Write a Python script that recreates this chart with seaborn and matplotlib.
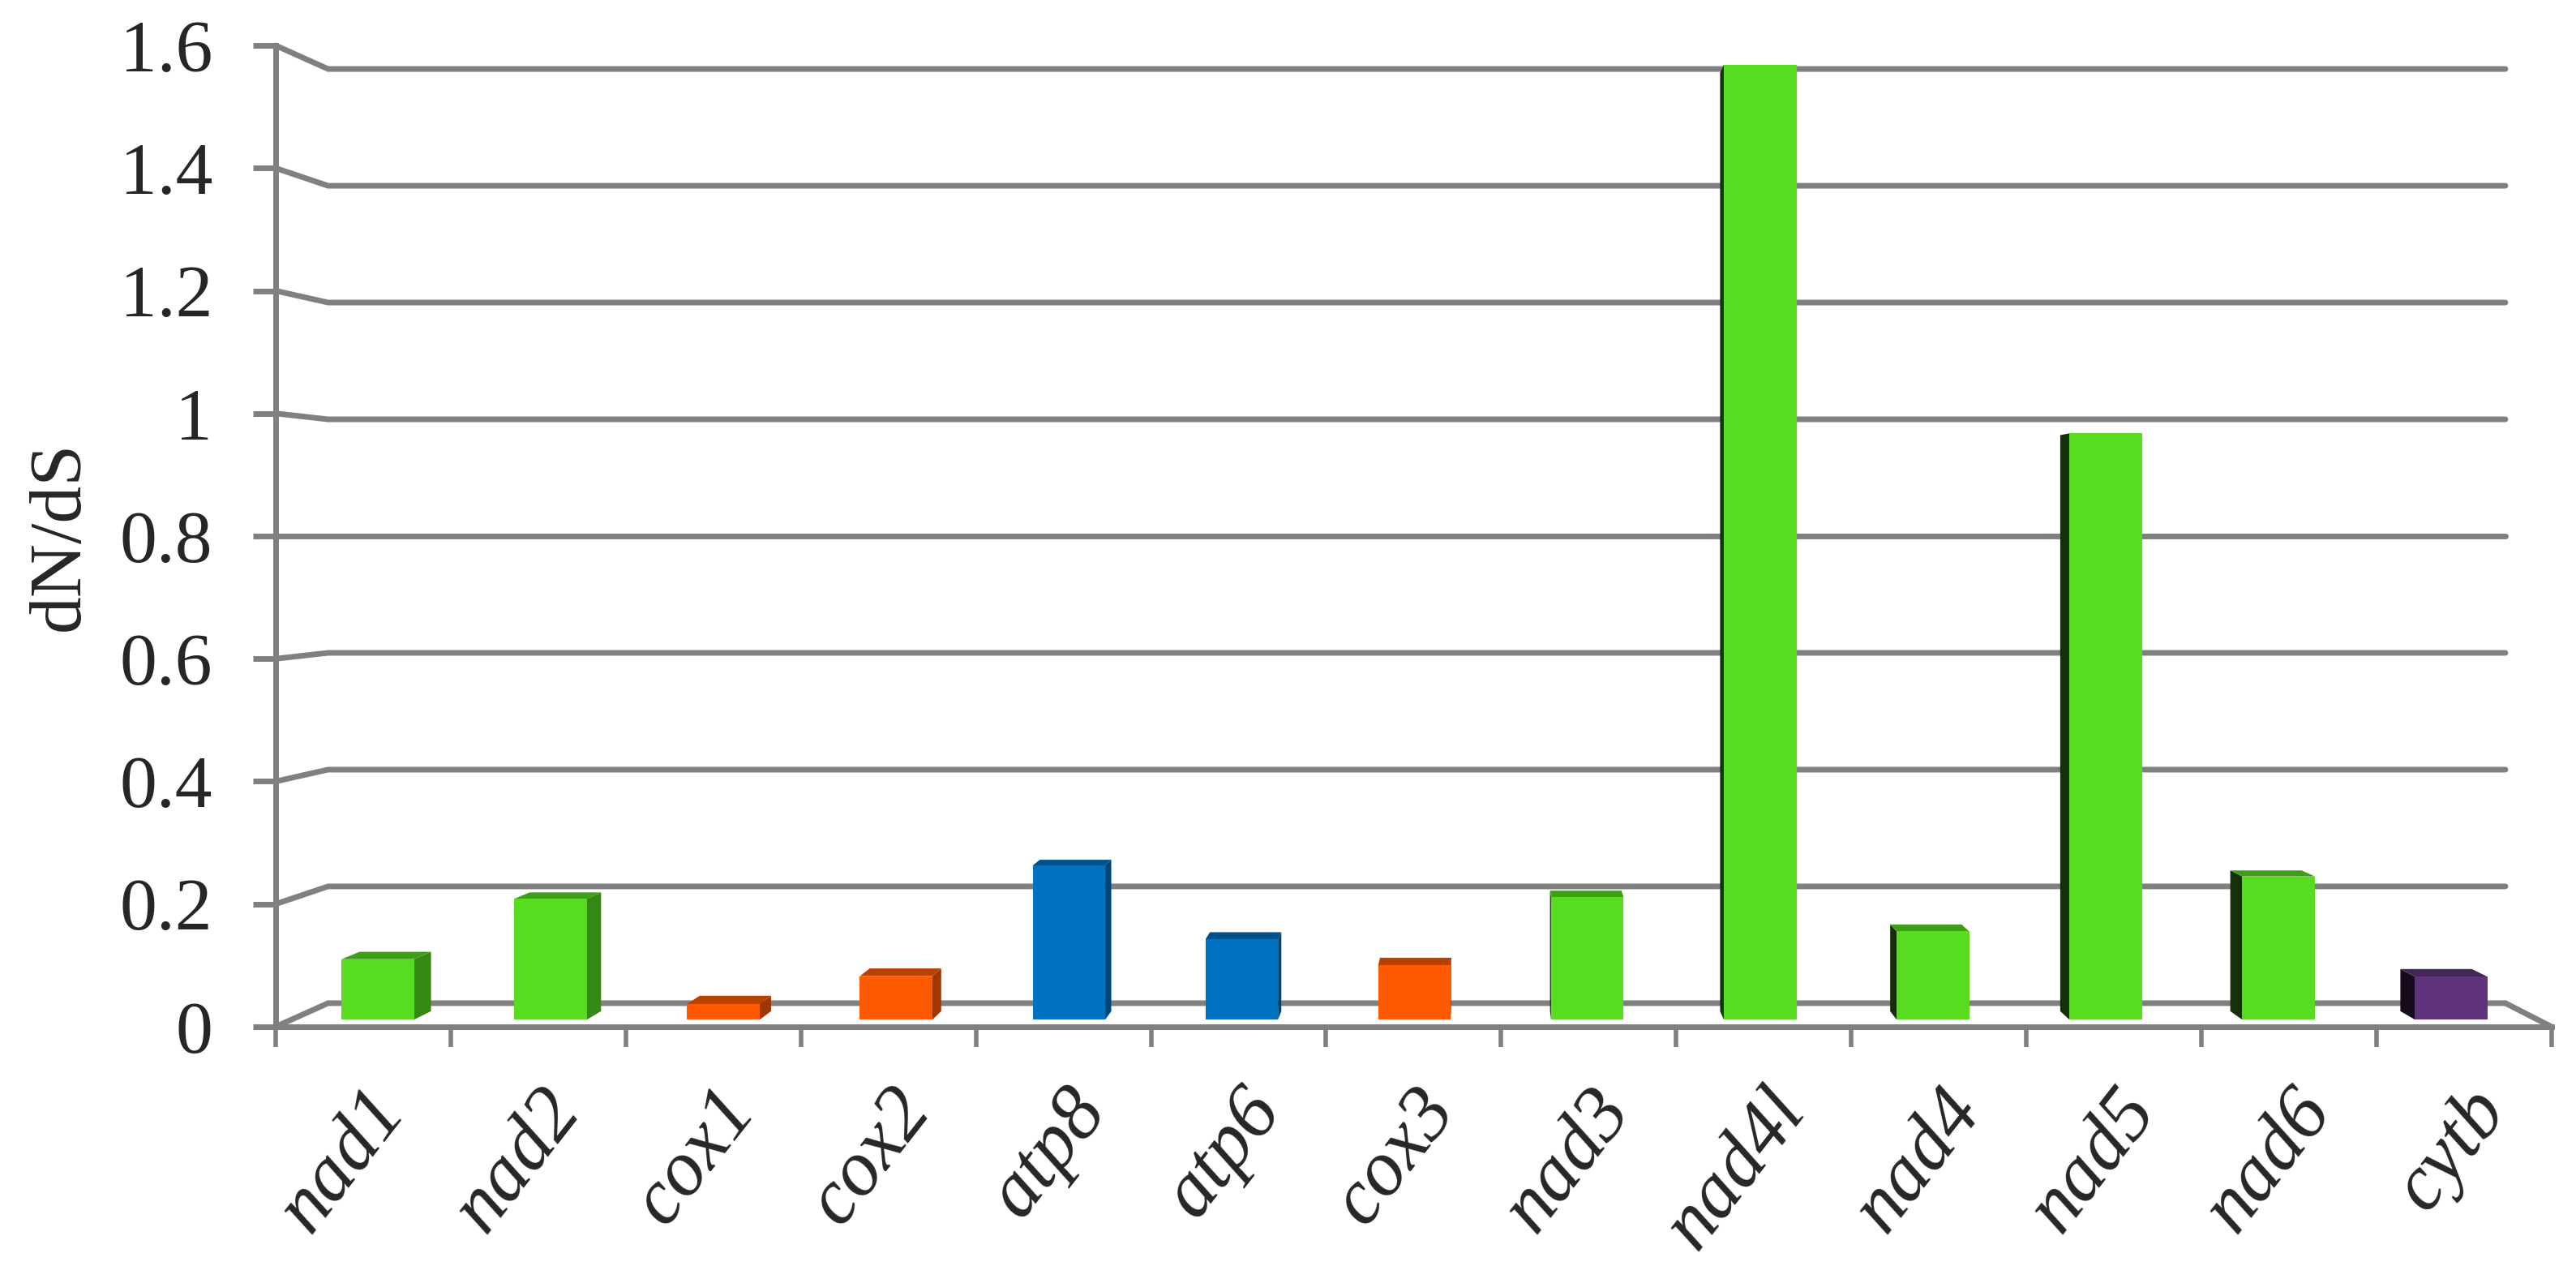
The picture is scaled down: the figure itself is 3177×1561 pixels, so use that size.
import matplotlib
matplotlib.use("Agg")
import matplotlib.pyplot as plt
import numpy as np
import pandas as pd
import seaborn as sns
from matplotlib import font_manager
from matplotlib.colors import to_rgb
from matplotlib.patches import Polygon
from matplotlib.ticker import NullFormatter

genes = ["nad1", "nad2", "cox1", "cox2", "atp8", "atp6", "cox3",
         "nad3", "nad4l", "nad4", "nad5", "nad6", "cytb"]
dnds = [0.10, 0.20, 0.026, 0.072, 0.255, 0.133, 0.09,
        0.203, 1.58, 0.146, 0.97, 0.237, 0.071]
complexes = ["I", "I", "IV", "IV", "V", "V", "IV",
             "I", "I", "I", "I", "I", "III"]
complex_colors = {"I": "#57DC20", "IV": "#FF5A00", "V": "#0070C0", "III": "#5E3379"}
y_ticks = [0, 0.2, 0.4, 0.6, 0.8, 1.0, 1.2, 1.4, 1.6]
y_tick_labels = ["0", "0.2", "0.4", "0.6", "0.8", "1", "1.2", "1.4", "1.6"]

# fake 3d look of the excel chart: simple perspective toward (VX, VY)
VX, VY = 6.42, 0.8
KX, KY = 0.0433, 0.048
T_FRONT, T_BACK = 0.30, 0.66
GRID = "#808080"


def proj(x, v, t):
    return VX + (x - VX) * (1 - KX * t), VY + (v - VY) * (1 - KY * t)


def shade(color, k):
    r, g, b = to_rgb(color)
    return (r * k, g * k, b * k)


def pick_serif():
    for name in ["Liberation Serif", "Times New Roman", "STIXGeneral", "DejaVu Serif"]:
        try:
            font_manager.findfont(font_manager.FontProperties(family=name),
                                  fallback_to_default=False)
            return name
        except ValueError:
            continue
    return "serif"


sns.set_theme(style="white")
plt.rcParams["font.family"] = [pick_serif(), "DejaVu Serif"]

df = pd.DataFrame({"gene": genes, "dnds": dnds, "complex": complexes})

fig = plt.figure(figsize=(31.77, 15.61), dpi=100)
ax = fig.add_axes([0.1070, 0.1890, 0.8835, 0.7751])

sns.barplot(data=df, x="gene", y="dnds", hue="complex", palette=complex_colors,
            width=0.42, dodge=False, saturation=1, errorbar=None, legend=False,
            linewidth=0, ax=ax, zorder=3)

# push each bar back into its depth slot and add side / top faces
for patch in list(ax.patches):
    x0, w, h = patch.get_x(), patch.get_width(), patch.get_height()
    if not np.isfinite(h) or w == 0:
        continue
    face = patch.get_facecolor()
    x1 = x0 + w
    fx0, fy0 = proj(x0, 0, T_FRONT)
    fx1, fy1 = proj(x1, h, T_FRONT)
    patch.set_x(fx0)
    patch.set_y(fy0)
    patch.set_width(fx1 - fx0)
    patch.set_height(fy1 - fy0)

    if (x0 + x1) / 2 < VX:
        xs, k = x1, 0.62
    else:
        xs, k = x0, 0.22
    side = [proj(xs, 0, T_FRONT), proj(xs, 0, T_BACK), proj(xs, h, T_BACK), proj(xs, h, T_FRONT)]
    ax.add_patch(Polygon(side, closed=True, facecolor=shade(face, k), edgecolor="none", zorder=2))
    if h < VY:
        top = [proj(x0, h, T_FRONT), proj(x1, h, T_FRONT), proj(x1, h, T_BACK), proj(x0, h, T_BACK)]
        ax.add_patch(Polygon(top, closed=True, facecolor=shade(face, 0.72), edgecolor="none", zorder=2))

# gridlines on the back wall with the little slanted link to the front axis
for v in y_ticks:
    bx0, by0 = proj(-0.5, v, 1)
    bx1, by1 = proj(12.5, v, 1)
    ax.plot([-0.5, bx0, bx1], [v, by0, by1], color=GRID, lw=5, zorder=1,
            clip_on=False, solid_joinstyle="miter")
bx1, by1 = proj(12.5, 0, 1)
ax.plot([bx1, 12.5], [by1, 0], color=GRID, lw=5, zorder=4, clip_on=False)

ax.set_xlim(-0.5, 12.5)
ax.set_ylim(0, 1.6)

for side_name in ["top", "right"]:
    ax.spines[side_name].set_visible(False)
for side_name in ["left", "bottom"]:
    ax.spines[side_name].set_color(GRID)
    ax.spines[side_name].set_linewidth(5)
    ax.spines[side_name].set_zorder(4)

ax.set_yticks(y_ticks, labels=y_tick_labels)
ax.tick_params(axis="y", which="major", direction="out", length=20, width=5,
               color=GRID, pad=36, labelsize=66, left=True)

ax.set_xticks(np.arange(-0.5, len(genes), 1))
ax.xaxis.set_major_formatter(NullFormatter())
ax.set_xticks(np.arange(len(genes)), labels=genes, minor=True)
for lab in ax.get_xticklabels(minor=True):
    lab.set_rotation(52)
    lab.set_rotation_mode("anchor")
    lab.set_ha("right")
    lab.set_va("top")
    lab.set_fontstyle("italic")
ax.tick_params(axis="x", which="major", direction="out", length=18, width=4,
               color=GRID, bottom=True)
ax.tick_params(axis="x", which="minor", length=0, pad=44, labelsize=70, bottom=True)

ax.set_xlabel("")
ax.set_ylabel("dN/dS", fontsize=66)
ax.yaxis.set_label_coords(-0.080, 0.5)
ax.grid(False)

fig.savefig("out.png", dpi=100)
